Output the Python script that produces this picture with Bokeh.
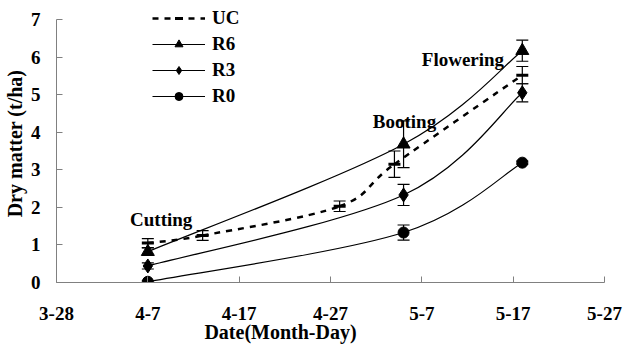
from datetime import date
from bokeh.plotting import figure
from bokeh.models import (ColumnDataSource, Whisker, TeeHead, Legend, LegendItem,
                          FixedTicker, Label)
from bokeh.embed import file_html
from bokeh.resources import INLINE

# ---- data ----
x_tick_labels = ["3-28", "4-7", "4-17", "4-27", "5-7", "5-17", "5-27"]
y_ticks = [0, 1, 2, 3, 4, 5, 6, 7]

uc_dates = ["4-7", "4-13", "4-28", "5-4", "5-18"]
uc_vals = [1.05, 1.25, 2.03, 3.15, 5.52]
uc_err = [0.12, 0.13, 0.14, 0.35, 0.23]

r_dates = ["4-7", "5-5", "5-18"]
r6_vals = [0.82, 3.68, 6.17]
r6_err = [0.10, 0.62, 0.28]
r3_vals = [0.44, 2.33, 5.05]
r3_err = [0.08, 0.28, 0.24]
r0_vals = [0.02, 1.33, 3.19]
r0_err = [0.03, 0.20, 0.04]

stage_names = ["Cutting", "Booting", "Flowering"]

ORIGIN = date(2000, 3, 28)


def day(s):
    m, d = (int(t) for t in s.split("-"))
    return (date(2000, m, d) - ORIGIN).days


FONT = "Liberation Serif"
FS = "19px"
FS_AX = "20px"

p = figure(width=625, height=345, output_backend="svg", toolbar_location=None,
           x_range=(0, 60), y_range=(0, 7.4),
           min_border_left=53, min_border_right=21, min_border_top=4,
           min_border_bottom=62)
p.outline_line_color = None
p.xgrid.visible = False
p.ygrid.visible = False
p.background_fill_color = "white"
p.border_fill_color = "white"

xticks = [day(s) for s in x_tick_labels]
p.xaxis.ticker = FixedTicker(ticks=xticks)
p.xaxis.major_label_overrides = {t: s for t, s in zip(xticks, x_tick_labels)}
p.yaxis.ticker = FixedTicker(ticks=y_ticks)
p.yaxis.bounds = (y_ticks[0], y_ticks[-1])

for ax in (p.xaxis, p.yaxis):
    ax.axis_line_color = "#808080"
    ax.major_tick_line_color = "#808080"
    ax.major_tick_in = 6
    ax.major_tick_out = 0
    ax.minor_tick_line_color = None
    ax.major_label_text_font = FONT
    ax.major_label_text_font_style = "bold"
    ax.major_label_text_font_size = FS
    ax.major_label_text_color = "black"
    ax.axis_label_text_font = FONT
    ax.axis_label_text_font_style = "bold"
    ax.axis_label_text_font_size = FS_AX
    ax.axis_label_text_color = "black"
p.xaxis.major_label_standoff = 24
p.yaxis.major_label_standoff = 16
p.yaxis.axis_label = "Dry matter (t/ha)"
p.yaxis.axis_label_standoff = 2
# label sits left of the frame centre, as in the original
p.xaxis.axis_label = "Date(Month-Day)" + "\u00a0" * 20
p.xaxis.axis_label_standoff = -2


def smooth(xs, ys):
    # Excel-like smoothed line: cubic Bezier segments through the data points
    n = len(xs)
    X0, Y0, X1, Y1, CX0, CY0, CX1, CY1 = [], [], [], [], [], [], [], []
    for i in range(n - 1):
        a = max(i - 1, 0)
        b = min(i + 2, n - 1)
        X0.append(xs[i]); Y0.append(ys[i])
        X1.append(xs[i + 1]); Y1.append(ys[i + 1])
        CX0.append(xs[i] + (xs[i + 1] - xs[a]) / 6)
        CY0.append(ys[i] + (ys[i + 1] - ys[a]) / 6)
        CX1.append(xs[i + 1] - (xs[b] - xs[i]) / 6)
        CY1.append(ys[i + 1] - (ys[b] - ys[i]) / 6)
    return dict(x0=X0, y0=Y0, x1=X1, y1=Y1, cx0=CX0, cy0=CY0, cx1=CX1, cy1=CY1)


series = [
    ("UC", uc_dates, uc_vals, uc_err, "dash"),
    ("R6", r_dates, r6_vals, r6_err, "triangle"),
    ("R3", r_dates, r3_vals, r3_err, "diamond"),
    ("R0", r_dates, r0_vals, r0_err, "circle"),
]

items = []
for name, dts, vals, errs, marker in series:
    xs = [day(s) for s in dts]
    seg = ColumnDataSource(smooth(xs, vals))
    if name == "UC":
        ln = p.bezier("x0", "y0", "x1", "y1", "cx0", "cy0", "cx1", "cy1", source=seg,
                      line_color="black", line_width=2.5, line_dash="6 6")
    else:
        ln = p.bezier("x0", "y0", "x1", "y1", "cx0", "cy0", "cx1", "cy1", source=seg,
                      line_color="black", line_width=1.2)
    src = ColumnDataSource(dict(x=xs, y=vals,
                                lo=[v - e for v, e in zip(vals, errs)],
                                hi=[v + e for v, e in zip(vals, errs)]))
    w = Whisker(base="x", lower="lo", upper="hi", source=src, dimension="height",
                line_color="black", line_width=1.2,
                upper_head=TeeHead(size=12, line_color="black", line_width=1.2),
                lower_head=TeeHead(size=12, line_color="black", line_width=1.2))
    p.add_layout(w)
    if marker == "dash":
        mk = p.scatter("x", "y", source=src, marker="dash", size=12,
                       line_color="black", line_width=3)
    elif marker == "triangle":
        mk = p.scatter("x", "y", source=src, marker="triangle", size=13,
                       fill_color="black", line_color="black")
    elif marker == "diamond":
        mk = p.scatter("x", "y", source=src, marker="diamond", size=14,
                       fill_color="black", line_color="black")
    else:
        mk = p.scatter("x", "y", source=src, marker="circle", size=11,
                       fill_color="black", line_color="black")
    items.append(LegendItem(label=name, renderers=[ln, mk]))

legend = Legend(items=items, location=(96, 175), padding=0, margin=0,
                border_line_color=None, background_fill_alpha=0,
                glyph_width=53, glyph_height=20, label_height=20, spacing=4,
                label_standoff=7, label_text_font=FONT,
                label_text_font_style="bold", label_text_font_size=FS,
                label_text_color="black", label_text_baseline="middle")
p.add_layout(legend)

stage_x = [day("4-8") + 0.46, day("5-5") + 0.1, day("5-12") - 0.5]
stage_y = [1.69, 4.28, 5.94]
for t, sx, sy in zip(stage_names, stage_x, stage_y):
    p.add_layout(Label(x=sx, y=sy, text=t, text_align="center",
                       text_baseline="alphabetic", text_font=FONT,
                       text_font_style="bold", text_font_size=FS,
                       text_color="black"))

open("out.html", "w").write(file_html(p, INLINE))
